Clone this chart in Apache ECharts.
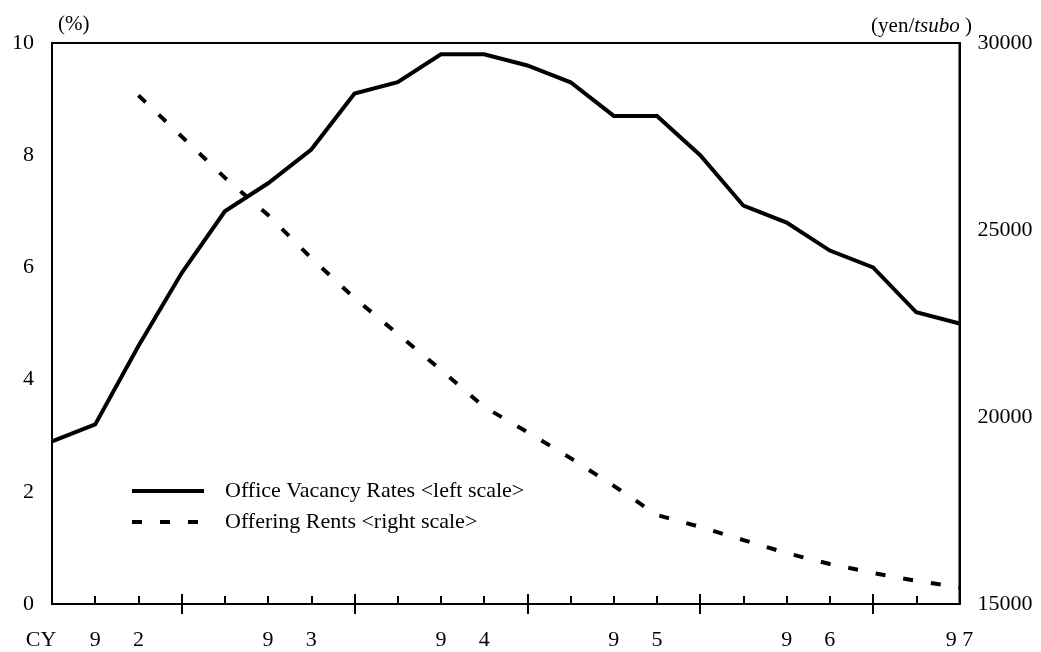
<!DOCTYPE html>
<html>
<head>
<meta charset="utf-8">
<script src="https://cdn.jsdelivr.net/npm/echarts@6/dist/echarts.min.js"></script>
<style>
  html, body { margin: 0; padding: 0; background: #fff; }
  #chart { width: 1041px; height: 652px; }
</style>
</head>
<body>
<div id="chart"></div>
<script>
// Quarterly observations (22 points)
const quarters = ['92Q2','92Q3','92Q4','93Q1','93Q2','93Q3','93Q4','94Q1','94Q2','94Q3','94Q4',
                  '95Q1','95Q2','95Q3','95Q4','96Q1','96Q2','96Q3','96Q4','97Q1','97Q2','97Q3'];
// Tick labels shown under the axis (one per tick)
const tickLabels = ['CY','9','2','','','9','3','','','9','4','','','9','5','','','9','6','','','9 7'];
// Office vacancy rates (%), left scale
const vacancyRates = [2.9, 3.2, 4.6, 5.9, 7.0, 7.5, 8.1, 9.1, 9.3, 9.8, 9.8,
                      9.6, 9.3, 8.7, 8.7, 8.0, 7.1, 6.8, 6.3, 6.0, 5.2, 5.0];
// Offering rents (yen/tsubo), right scale
const offeringRents = [null, null, 28600, 27500, 26400, 25400, 24250, 23180, 22220, 21260, 20270,
                       19600, 18900, 18160, 17380, 17060, 16710, 16360, 16070, 15830, 15620, 15450];
const leftTicks = { min: 0, max: 10, interval: 2 };
const rightTicks = { min: 15000, max: 30000, interval: 5000 };
const seriesNames = ['Office Vacancy Rates <left scale>', 'Offering Rents <right scale>'];

const FONT = "'Liberation Serif', 'Times New Roman', serif";
const chart = echarts.init(document.getElementById('chart'), null, { renderer: 'canvas' });

chart.setOption({
  backgroundColor: '#fff',
  animation: false,
  textStyle: { fontFamily: FONT, color: '#000' },
  grid: {
    left: 52, right: 81.5, top: 43, bottom: 48,
    show: true, borderColor: '#000', borderWidth: 2, backgroundColor: 'transparent'
  },
  legend: {
    orient: 'vertical',
    left: 130, top: 480, padding: 0,
    itemWidth: 72, itemHeight: 14, itemGap: 9,
    data: seriesNames,
    itemStyle: { opacity: 0 },
    lineStyle: { width: 4 },
    textStyle: { fontFamily: FONT, fontSize: 22, color: '#000', lineHeight: 22, padding: [0, 0, 0, 16] }
  },
  xAxis: [
    {
      type: 'category', data: quarters, boundaryGap: false, position: 'bottom',
      axisLine: { show: true, lineStyle: { color: '#000', width: 2 } },
      axisTick: { show: true, inside: true, length: 8, interval: 0, lineStyle: { color: '#000', width: 2 } },
      axisLabel: {
        show: true, interval: 0, hideOverlap: false, margin: 25,
        fontFamily: FONT, fontSize: 22, color: '#000',
        formatter: (v, i) => i === 0 ? '{cy|' + tickLabels[i] + '}' : tickLabels[i],
        rich: { cy: { fontFamily: FONT, fontSize: 22, color: '#000', padding: [0, 22, 0, 0] } }
      },
      splitLine: { show: false }
    },
    {
      type: 'category', data: quarters, boundaryGap: false, position: 'bottom', offset: -10,
      axisLine: { show: false },
      axisTick: { show: true, inside: false, length: 20, interval: (i) => i % 4 === 3,
                  lineStyle: { color: '#000', width: 2 } },
      axisLabel: { show: false },
      splitLine: { show: false }
    }
  ],
  yAxis: [
    {
      type: 'value', position: 'left', ...leftTicks,
      axisLine: { show: true, lineStyle: { color: '#000', width: 2 } },
      axisTick: { show: false },
      axisLabel: { margin: 18, fontFamily: FONT, fontSize: 22, color: '#000' },
      splitLine: { show: false }
    },
    {
      type: 'value', position: 'right', ...rightTicks,
      axisLine: { show: true, lineStyle: { color: '#000', width: 2 } },
      axisTick: { show: false },
      axisLabel: { margin: 18, fontFamily: FONT, fontSize: 22, color: '#000',
                   formatter: (v) => String(v) },
      splitLine: { show: false }
    }
  ],
  graphic: [
    { type: 'text', left: 58, top: 14,
      style: { text: '(%)', font: "21px 'Liberation Serif', serif", fill: '#000' } },
    { type: 'text', right: 69, top: 16,
      style: { text: '(yen/{i|tsubo} )', font: "21px 'Liberation Serif', serif", fill: '#000',
               rich: { i: { fontStyle: 'italic', fontFamily: FONT, fontSize: 21 } } } }
  ],
  series: [
    {
      name: seriesNames[0], type: 'line', xAxisIndex: 0, yAxisIndex: 0,
      data: vacancyRates, symbol: 'none', smooth: false,
      lineStyle: { color: '#000', width: 4, join: 'miter' },
      itemStyle: { color: '#000' }
    },
    {
      name: seriesNames[1], type: 'line', xAxisIndex: 0, yAxisIndex: 1,
      data: offeringRents, symbol: 'none', smooth: false,
      lineStyle: { color: '#000', width: 4, type: [10, 18], cap: 'butt' },
      itemStyle: { color: '#000' }
    }
  ]
});
</script>
</body>
</html>
